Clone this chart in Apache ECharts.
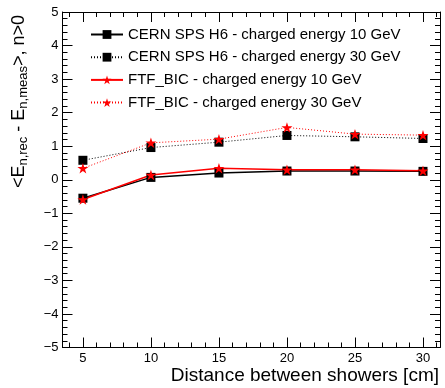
<!DOCTYPE html>
<html>
<head>
<meta charset="utf-8">
<script src="https://cdn.jsdelivr.net/npm/echarts@6/dist/echarts.min.js"></script>
<style>
html,body{margin:0;padding:0;background:#fff;}
#c{width:445px;height:388px;}
</style>
</head>
<body>
<div id="c"></div>
<script>
// ---- data ----
const distances = [5, 10, 15, 20, 25, 30];
const cern10 = [-0.55, 0.07, 0.20, 0.26, 0.26, 0.25];
const cern30 = [0.58, 0.96, 1.12, 1.32, 1.28, 1.23];
const ftf10 = [-0.59, 0.14, 0.34, 0.30, 0.30, 0.27];
const ftf30 = [0.34, 1.10, 1.21, 1.56, 1.36, 1.33];
const seriesNames = [
  'CERN SPS H6 - charged energy 10 GeV',
  'CERN SPS H6 - charged energy 30 GeV',
  'FTF_BIC - charged energy 10 GeV',
  'FTF_BIC - charged energy 30 GeV'
];
const xTitle = 'Distance between showers [cm]';

const FONT = 'Liberation Sans, Arial, Helvetica, sans-serif';
const STAR = 'path://M100,0 L122.45,69.1 L195.1,69.1 L136.3,111.8 L158.8,180.9 L100,138.2 L41.2,180.9 L63.7,111.8 L4.9,69.1 L77.55,69.1 Z';

function pairs(ys) { return distances.map((x, i) => [x, ys[i]]); }
function minusFmt(v) { return v < 0 ? '\u2212' + (-v) : String(v); }

// plot frame (main grid) and helper grids that carry the x ticks
const XMIN = 3.5, XMAX = 31.25;
const G_LEFT = 62.5, G_RIGHT = 5, G_TOP = 12, G_BOTTOM = 40.5;
const W = 445 - G_LEFT - G_RIGHT;
const pxPerUnit = W / (XMAX - XMIN);
function gridFor(a, b) {
  return { left: G_LEFT + (a - XMIN) * pxPerUnit, right: G_RIGHT + (XMAX - b) * pxPerUnit, top: G_TOP, bottom: G_BOTTOM };
}
function axisLine(show) { return { show: show, onZero: false, lineStyle: { color: '#000', width: 1 } }; }

function tickAxis(grid, pos, min, max, interval, len, labels) {
  return {
    gridIndex: grid, type: 'value', position: pos, min: min, max: max, interval: interval,
    axisLine: axisLine(false),
    axisTick: { show: true, inside: true, length: len, lineStyle: { color: '#000', width: 1 } },
    axisLabel: labels ? { show: true, color: '#000', fontFamily: FONT, fontSize: 13, margin: 4 } : { show: false },
    splitLine: { show: false }
  };
}
function frameX(pos) {
  return { gridIndex: 0, type: 'value', position: pos, min: XMIN, max: XMAX,
    axisLine: axisLine(true), axisTick: { show: false }, axisLabel: { show: false }, splitLine: { show: false } };
}
function yAxisDef(pos, labels) {
  return {
    gridIndex: 0, type: 'value', position: pos, min: -5, max: 5, interval: 1,
    axisLine: axisLine(true),
    axisTick: { show: true, inside: true, length: 10, lineStyle: { color: '#000', width: 1 } },
    minorTick: { show: true, splitNumber: 5, length: 5, lineStyle: { color: '#000', width: 1 } },
    axisLabel: labels ? { show: true, color: '#000', fontFamily: FONT, fontSize: 13, margin: 4, formatter: minusFmt } : { show: false },
    splitLine: { show: false }
  };
}
function hiddenY(grid) { return { gridIndex: grid, type: 'value', min: 0, max: 1, show: false }; }

const chart = echarts.init(document.getElementById('c'), null, { renderer: 'canvas' });
chart.setOption({
  animation: false,
  backgroundColor: '#fff',
  grid: [
    { left: G_LEFT, right: G_RIGHT, top: G_TOP, bottom: G_BOTTOM },
    gridFor(5, 30),
    gridFor(4, 31)
  ],
  xAxis: [
    frameX('bottom'),
    frameX('top'),
    tickAxis(1, 'bottom', 5, 30, 5, 10, true),
    tickAxis(1, 'top', 5, 30, 5, 10, false),
    tickAxis(2, 'bottom', 4, 31, 1, 5, false),
    tickAxis(2, 'top', 4, 31, 1, 5, false)
  ],
  yAxis: [yAxisDef('left', true), yAxisDef('right', false), hiddenY(1), hiddenY(2)],
  legend: {
    orient: 'vertical',
    left: 90, top: 27, padding: 0,
    itemWidth: 32, itemHeight: 11, itemGap: 7.7,
    textStyle: { fontFamily: FONT, fontSize: 15, color: '#000', lineHeight: 15 },
    data: seriesNames
  },
  series: [
    { name: seriesNames[0], type: 'line', data: pairs(cern10), xAxisIndex: 0, yAxisIndex: 0,
      symbol: 'rect', symbolSize: 9, itemStyle: { color: '#000' }, lineStyle: { color: '#000', width: 1.5, type: 'solid' } },
    { name: seriesNames[1], type: 'line', data: pairs(cern30), xAxisIndex: 0, yAxisIndex: 0,
      symbol: 'rect', symbolSize: 9, itemStyle: { color: '#000' }, lineStyle: { color: '#000', width: 1, type: [1, 2] } },
    { name: seriesNames[2], type: 'line', data: pairs(ftf10), xAxisIndex: 0, yAxisIndex: 0,
      symbol: STAR, symbolKeepAspect: true, symbolSize: 11, itemStyle: { color: '#ff0000' }, lineStyle: { color: '#ff0000', width: 1.5, type: 'solid' } },
    { name: seriesNames[3], type: 'line', data: pairs(ftf30), xAxisIndex: 0, yAxisIndex: 0,
      symbol: STAR, symbolKeepAspect: true, symbolSize: 11, itemStyle: { color: '#ff0000' }, lineStyle: { color: '#ff0000', width: 1, type: [1, 2] } }
  ],
  graphic: [
    { type: 'text', right: 6, top: 366,
      style: { text: xTitle, font: '19px ' + FONT, fill: '#000' } },
    { type: 'text', x: 19, y: 15, rotation: Math.PI / 2,
      style: {
        text: '<E{s|n,rec} - E{s|n,meas}>, n>0',
        font: '18px ' + FONT, fill: '#000',
        align: 'right', verticalAlign: 'middle',
        rich: { s: { fontSize: 13, fontFamily: FONT, verticalAlign: 'bottom', padding: [8, 0, 0, 0] } }
      } }
  ]
});
</script>
</body>
</html>
